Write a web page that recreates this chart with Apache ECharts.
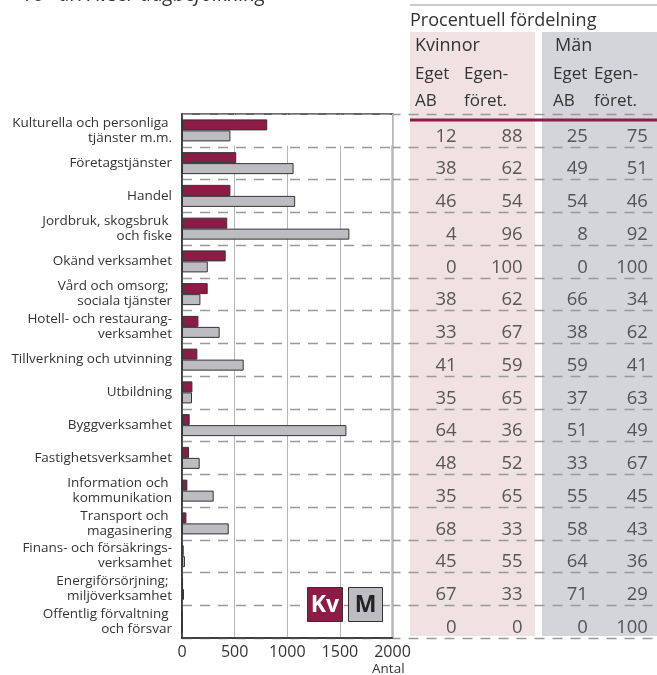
<!DOCTYPE html>
<html><head><meta charset="utf-8">
<script src="https://cdn.jsdelivr.net/npm/echarts@6/dist/echarts.min.js"></script>
<style>html,body{margin:0;padding:0;background:#fff}#c{width:657px;height:675px}</style>
</head><body><div id="c"></div>
<script>
const categories = ['Kulturella och personliga \ntjänster m.m.', 'Företagstjänster', 'Handel', 'Jordbruk, skogsbruk \noch fiske', 'Okänd verksamhet', 'Vård och omsorg; \nsociala tjänster', 'Hotell- och restaurang-\nverksamhet', 'Tillverkning och utvinning', 'Utbildning', 'Byggverksamhet', 'Fastighetsverksamhet', 'Information och \nkommunikation', 'Transport och \nmagasinering', 'Finans- och försäkrings-\nverksamhet', 'Energiförsörjning; \nmiljöverksamhet', 'Offentlig förvaltning \noch försvar'];
const kvinnor = [810, 515, 460, 430, 415, 244, 156, 146, 99, 73, 67, 51, 42, 16, 10, 1];
const man = [460, 1060, 1075, 1590, 245, 175, 358, 586, 95, 1562, 168, 301, 444, 28, 19, 3];
const kvEgetAB = [12, 38, 46, 4, 0, 38, 33, 41, 35, 64, 48, 35, 68, 45, 67, 0];
const kvEgenforet = [88, 62, 54, 96, 100, 62, 67, 59, 65, 36, 52, 65, 33, 55, 33, 0];
const manEgetAB = [25, 49, 54, 8, 0, 66, 38, 59, 37, 51, 33, 55, 58, 64, 71, 0];
const manEgenforet = [75, 51, 46, 92, 100, 34, 62, 41, 63, 49, 67, 45, 43, 36, 29, 100];
const tableColumns = ['Kv Eget AB', 'Kv Egenföret.', 'Män Eget AB', 'Män Egenföret.'];
const xMin = 0, xMax = 2000, xStep = 500;

const FONT = '"Open Sans", "Noto Sans", sans-serif';
const MAROON = '#8C1B45';
const GREYBAR = '#BDBDC1';
const TXT = '#333';

const chart = echarts.init(document.getElementById('c'), null, {renderer: 'canvas'});

const tableSets = [kvEgetAB, kvEgenforet, manEgetAB, manEgenforet];
const colOffsets = [31, 31, 30, 24];
const tableSeries = tableSets.map((arr, ci) => ({
  type: 'scatter', xAxisIndex: 1, yAxisIndex: 1,
  symbolSize: 1, itemStyle: {color: 'rgba(0,0,0,0)'},
  silent: true,
  data: arr.map((v, ri) => [ci, ri, v]),
  label: {
    show: true, position: 'inside', align: 'right', verticalAlign: 'middle',
    offset: [colOffsets[ci], 6],
    formatter: p => String(p.value[2]),
    fontFamily: FONT, fontSize: 18.5, color: TXT
  }
}));

function txt(x, y, s, size, opts) {
  return {
    type: 'text', x: x, y: y, z: 50,
    style: Object.assign({text: s, fontFamily: FONT, fontSize: size, fill: TXT, verticalAlign: 'middle', align: 'left'}, opts || {})
  };
}

const option = {
  backgroundColor: '#fff',
  animation: false,
  grid: [
    {left: 182, right: 264.5, top: 114, bottom: 37, show: true, borderColor: '#333', borderWidth: 1.5, backgroundColor: 'transparent'},
    {left: 392.5, right: 0, top: 114, bottom: 37}
  ],
  xAxis: [
    {gridIndex: 0, type: 'value', min: xMin, max: xMax, interval: xStep,
     axisLine: {show: true, lineStyle: {color: '#333', width: 1.5}},
     axisTick: {show: false},
     axisLabel: {fontFamily: FONT, fontSize: 16, color: TXT, margin: 6, formatter: v => String(v)},
     splitLine: {show: true, lineStyle: {color: '#b5b5b5', width: 1}}},
    {gridIndex: 1, type: 'value', min: -0.5, max: 3.5, show: false}
  ],
  yAxis: [
    {gridIndex: 0, type: 'category', data: categories, inverse: true,
     axisLine: {show: true, lineStyle: {color: '#333', width: 1.5}},
     axisTick: {show: false},
     axisLabel: {fontFamily: FONT, fontSize: 13.5, color: TXT, lineHeight: 15, margin: 10, align: 'right', offset: [0, -2]},
     splitLine: {show: true, lineStyle: {color: '#999', width: 1.3, type: [10, 8]}}},
    {gridIndex: 1, type: 'category', data: categories, inverse: true,
     axisLine: {show: false}, axisTick: {show: false}, axisLabel: {show: false},
     splitLine: {show: true, lineStyle: {color: '#999', width: 1.3, type: [10, 8], dashOffset: 2}}}
  ],
  series: [
    {name: 'Kv', type: 'bar', xAxisIndex: 0, yAxisIndex: 0, data: kvinnor, barWidth: 11, barGap: '0%',
     itemStyle: {color: MAROON, borderColor: '#333', borderWidth: 1}},
    {name: 'M', type: 'bar', xAxisIndex: 0, yAxisIndex: 0, data: man, barWidth: 11, barGap: '0%',
     itemStyle: {color: GREYBAR, borderColor: '#333', borderWidth: 1}}
  ].concat(tableSeries),
  graphic: [
    {type: 'rect', z: -10, shape: {x: 410, y: 32, width: 125, height: 604}, style: {fill: '#F0E1E3'}},
    {type: 'rect', z: -10, shape: {x: 542, y: 32, width: 115, height: 604}, style: {fill: '#D4D5D9'}},
    {type: 'rect', z: 1, shape: {x: 183, y: 115, width: 209, height: 30.5}, style: {fill: '#fff'}},
    {type: 'line', z: 50, shape: {x1: 410, y1: 5, x2: 657, y2: 5}, style: {stroke: '#999', lineWidth: 1}},
    {type: 'line', z: 50, shape: {x1: 410, y1: 120, x2: 657, y2: 120}, style: {stroke: MAROON, lineWidth: 3}},
    txt(22, -5, '16– år. Avser dagbefolkning', 20, {fontStyle: 'italic'}),
    txt(410, 21, 'Procentuell fördelning', 18),
    txt(415, 46, 'Kvinnor', 18),
    txt(555, 46, 'Män', 18),
    txt(415, 74, 'Eget', 17),
    txt(464, 74, 'Egen-', 17),
    txt(553, 74, 'Eget', 17),
    txt(594, 74, 'Egen-', 17),
    txt(415, 101, 'AB', 17),
    txt(464, 101, 'föret.', 17),
    txt(553, 101, 'AB', 17),
    txt(594, 101, 'föret.', 17),
    txt(372, 669, 'Antal', 13.5),
    {type: 'rect', z: 100, shape: {x: 307.5, y: 587.5, width: 35, height: 34}, style: {fill: MAROON, stroke: '#333', lineWidth: 1}},
    {type: 'rect', z: 100, shape: {x: 348.5, y: 587.5, width: 34, height: 34}, style: {fill: GREYBAR, stroke: '#333', lineWidth: 1}},
    {type: 'text', z: 101, x: 325, y: 605, style: {text: 'Kv', fontFamily: FONT, fontSize: 23, fontWeight: 'bold', fill: '#fff', align: 'center', verticalAlign: 'middle'}},
    {type: 'text', z: 101, x: 365.5, y: 605, style: {text: 'M', fontFamily: FONT, fontSize: 23, fontWeight: 'bold', fill: '#222', align: 'center', verticalAlign: 'middle'}}
  ]
};
chart.setOption(option);
</script>
</body></html>
